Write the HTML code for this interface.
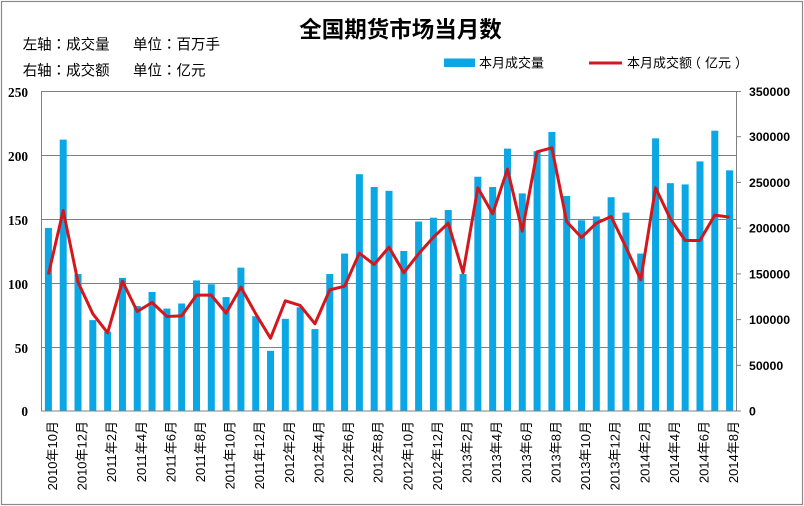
<!DOCTYPE html>
<html><head><meta charset="utf-8"><style>
html,body{margin:0;padding:0;background:#fff;}
svg{display:block;}
</style></head><body>
<svg width="804" height="506" viewBox="0 0 804 506" xmlns="http://www.w3.org/2000/svg">
<rect x="0" y="0" width="804" height="506" fill="#fff"/>
<rect x="1.5" y="1.5" width="801" height="503" fill="none" stroke="#8a8a8a" stroke-width="1.2"/>
<text x="400.5" y="37.5" text-anchor="middle" font-family="'Liberation Sans','Noto Sans CJK SC',sans-serif" font-weight="bold" font-size="22.5" fill="#000">全国期货市场当月数</text>
<g font-family="'Liberation Sans','Noto Sans CJK TC',sans-serif" font-size="14.5" fill="#000">
<text x="22.7" y="49.5">左轴：成交量</text>
<text x="133" y="49.5">单位：百万手</text>
<text x="22.7" y="75.5">右轴：成交额</text>
<text x="133" y="75.5">单位：亿元</text>
</g>
<rect x="444" y="58.5" width="31" height="8.5" fill="#0BA6E4"/>
<text x="479" y="67.5" font-family="'Liberation Sans','Noto Sans CJK TC',sans-serif" font-size="13" fill="#000">本月成交量</text>
<line x1="589" y1="63" x2="622" y2="63" stroke="#D4171C" stroke-width="3"/>
<text x="627" y="67.5" font-family="'Liberation Sans','Noto Sans CJK SC',sans-serif" font-size="13" fill="#000">本月成交额<tspan dx="-4">（</tspan><tspan dx="4">亿元</tspan><tspan dx="4">）</tspan></text>
<!-- gridlines -->
<g stroke="#808080" stroke-width="1">
<line x1="41.5" y1="91.5" x2="736.5" y2="91.5"/>
<line x1="41.5" y1="155.5" x2="736.5" y2="155.5"/>
<line x1="41.5" y1="219.5" x2="736.5" y2="219.5"/>
<line x1="41.5" y1="283.5" x2="736.5" y2="283.5"/>
<line x1="41.5" y1="347.5" x2="736.5" y2="347.5"/>
</g>
<!-- bars -->
<g transform="translate(41,411) scale(14.8085,-1.28)" fill="#0BA6E4">
<rect x="0.2637" y="0" width="0.4727" height="143"/>
<rect x="1.2637" y="0" width="0.4727" height="212"/>
<rect x="2.2637" y="0" width="0.4727" height="107"/>
<rect x="3.2637" y="0" width="0.4727" height="71"/>
<rect x="4.2637" y="0" width="0.4727" height="62"/>
<rect x="5.2637" y="0" width="0.4727" height="104"/>
<rect x="6.2637" y="0" width="0.4727" height="82"/>
<rect x="7.2637" y="0" width="0.4727" height="93"/>
<rect x="8.2637" y="0" width="0.4727" height="80"/>
<rect x="9.2637" y="0" width="0.4727" height="84"/>
<rect x="10.2637" y="0" width="0.4727" height="102"/>
<rect x="11.2637" y="0" width="0.4727" height="99"/>
<rect x="12.2637" y="0" width="0.4727" height="89"/>
<rect x="13.2637" y="0" width="0.4727" height="112"/>
<rect x="14.2637" y="0" width="0.4727" height="74"/>
<rect x="15.2637" y="0" width="0.4727" height="47"/>
<rect x="16.2637" y="0" width="0.4727" height="72"/>
<rect x="17.2637" y="0" width="0.4727" height="81"/>
<rect x="18.2637" y="0" width="0.4727" height="64"/>
<rect x="19.2637" y="0" width="0.4727" height="107"/>
<rect x="20.2637" y="0" width="0.4727" height="123"/>
<rect x="21.2637" y="0" width="0.4727" height="185"/>
<rect x="22.2637" y="0" width="0.4727" height="175"/>
<rect x="23.2637" y="0" width="0.4727" height="172"/>
<rect x="24.2637" y="0" width="0.4727" height="125"/>
<rect x="25.2637" y="0" width="0.4727" height="148"/>
<rect x="26.2637" y="0" width="0.4727" height="151"/>
<rect x="27.2637" y="0" width="0.4727" height="157"/>
<rect x="28.2637" y="0" width="0.4727" height="107"/>
<rect x="29.2637" y="0" width="0.4727" height="183"/>
<rect x="30.2637" y="0" width="0.4727" height="175"/>
<rect x="31.2637" y="0" width="0.4727" height="205"/>
<rect x="32.2637" y="0" width="0.4727" height="170"/>
<rect x="33.2637" y="0" width="0.4727" height="203"/>
<rect x="34.2637" y="0" width="0.4727" height="218"/>
<rect x="35.2637" y="0" width="0.4727" height="168"/>
<rect x="36.2637" y="0" width="0.4727" height="149"/>
<rect x="37.2637" y="0" width="0.4727" height="152"/>
<rect x="38.2637" y="0" width="0.4727" height="167"/>
<rect x="39.2637" y="0" width="0.4727" height="155"/>
<rect x="40.2637" y="0" width="0.4727" height="123"/>
<rect x="41.2637" y="0" width="0.4727" height="213"/>
<rect x="42.2637" y="0" width="0.4727" height="178"/>
<rect x="43.2637" y="0" width="0.4727" height="177"/>
<rect x="44.2637" y="0" width="0.4727" height="195"/>
<rect x="45.2637" y="0" width="0.4727" height="219"/>
<rect x="46.2637" y="0" width="0.4727" height="188"/>
</g>
<!-- axes -->
<g stroke="#808080" stroke-width="1">
<line x1="41.5" y1="91" x2="41.5" y2="411.5"/>
<line x1="736.5" y1="91" x2="736.5" y2="411.5"/>
<line x1="41" y1="411" x2="737" y2="411"/>
<line x1="736.5" y1="91.5" x2="741" y2="91.5"/>
<line x1="736.5" y1="136.7" x2="741" y2="136.7"/>
<line x1="736.5" y1="182.4" x2="741" y2="182.4"/>
<line x1="736.5" y1="228.1" x2="741" y2="228.1"/>
<line x1="736.5" y1="273.9" x2="741" y2="273.9"/>
<line x1="736.5" y1="319.6" x2="741" y2="319.6"/>
<line x1="736.5" y1="365.3" x2="741" y2="365.3"/>
<line x1="736.5" y1="411" x2="741" y2="411"/>
</g>
<!-- line -->
<g transform="translate(41,411) scale(14.8085,-9.1429)">
<polyline fill="none" stroke="#D4171C" stroke-width="3" stroke-linejoin="round" vector-effect="non-scaling-stroke" points="0.5,14.93 1.5,21.93 2.5,14.09 3.5,10.63 4.5,8.55 5.5,14.2 6.5,10.88 7.5,11.87 8.5,10.34 9.5,10.41 10.5,12.67 11.5,12.67 12.5,10.7 13.5,13.54 14.5,10.63 15.5,7.96 16.5,12.05 17.5,11.54 18.5,9.54 19.5,13.25 20.5,13.65 21.5,17.26 22.5,16.02 23.5,17.92 24.5,15.12 25.5,17.2 26.5,19.01 27.5,20.54 28.5,15.12 29.5,24.41 30.5,21.57 31.5,26.45 32.5,19.67 33.5,28.35 34.5,28.79 35.5,20.7 36.5,18.98 37.5,20.54 38.5,21.27 39.5,17.92 40.5,14.35 41.5,24.41 42.5,21.02 43.5,18.65 44.5,18.65 45.5,21.42 46.5,21.2"/>
</g>
<!-- left axis labels -->
<g font-family="'Liberation Serif',serif" font-weight="bold" font-size="13.3" fill="#000" text-anchor="end">
<text x="28" y="97">250</text>
<text x="28" y="161">200</text>
<text x="28" y="225">150</text>
<text x="28" y="289">100</text>
<text x="28" y="353">50</text>
<text x="28" y="416">0</text>
</g>
<!-- right axis labels -->
<g font-family="'Liberation Sans',sans-serif" font-weight="bold" font-size="12.3" fill="#000">
<text x="749" y="96">350000</text>
<text x="749" y="141.2">300000</text>
<text x="749" y="186.9">250000</text>
<text x="749" y="232.6">200000</text>
<text x="749" y="278.4">150000</text>
<text x="749" y="324.1">100000</text>
<text x="749" y="369.8">50000</text>
<text x="749" y="415.5">0</text>
</g>
<!-- x labels -->
<g font-family="'Liberation Sans','Noto Sans CJK SC',sans-serif" font-size="13" fill="#000" text-anchor="end">
<text transform="translate(56.9,421) rotate(-90)">2010年10月</text>
<text transform="translate(86.5,421) rotate(-90)">2010年12月</text>
<text transform="translate(116.1,421) rotate(-90)">2011年2月</text>
<text transform="translate(145.8,421) rotate(-90)">2011年4月</text>
<text transform="translate(175.4,421) rotate(-90)">2011年6月</text>
<text transform="translate(205.0,421) rotate(-90)">2011年8月</text>
<text transform="translate(234.6,421) rotate(-90)">2011年10月</text>
<text transform="translate(264.2,421) rotate(-90)">2011年12月</text>
<text transform="translate(293.9,421) rotate(-90)">2012年2月</text>
<text transform="translate(323.5,421) rotate(-90)">2012年4月</text>
<text transform="translate(353.1,421) rotate(-90)">2012年6月</text>
<text transform="translate(382.7,421) rotate(-90)">2012年8月</text>
<text transform="translate(412.3,421) rotate(-90)">2012年10月</text>
<text transform="translate(441.9,421) rotate(-90)">2012年12月</text>
<text transform="translate(471.6,421) rotate(-90)">2013年2月</text>
<text transform="translate(501.2,421) rotate(-90)">2013年4月</text>
<text transform="translate(530.8,421) rotate(-90)">2013年6月</text>
<text transform="translate(560.4,421) rotate(-90)">2013年8月</text>
<text transform="translate(590.0,421) rotate(-90)">2013年10月</text>
<text transform="translate(619.7,421) rotate(-90)">2013年12月</text>
<text transform="translate(649.3,421) rotate(-90)">2014年2月</text>
<text transform="translate(678.9,421) rotate(-90)">2014年4月</text>
<text transform="translate(708.5,421) rotate(-90)">2014年6月</text>
<text transform="translate(738.1,421) rotate(-90)">2014年8月</text>
</g>
</svg>
</body></html>
